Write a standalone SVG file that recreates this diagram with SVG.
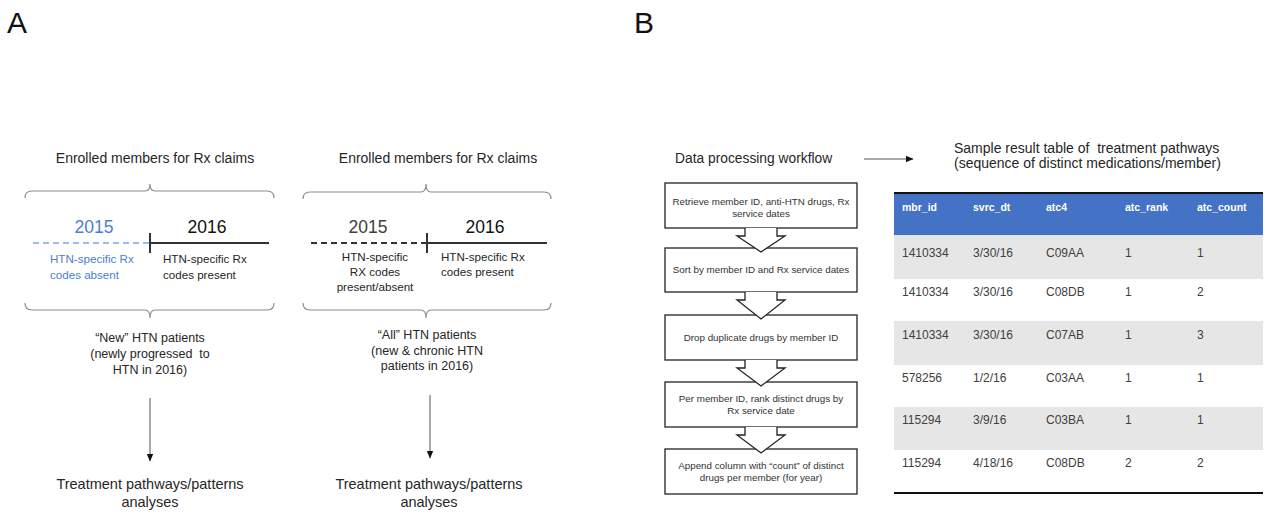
<svg xmlns="http://www.w3.org/2000/svg" width="1270" height="515" viewBox="0 0 1270 515">
<style>
text{font-family:"Liberation Sans",Arial,sans-serif;fill:#262626}
.lbl{font-size:30px;fill:#111}
.ttl{font-size:14px}
.yr{font-size:17.5px}
.sm{font-size:11.6px}
.pt{font-size:12.5px}
.big{font-size:14.5px}
.bx{font-size:9.8px;fill:#333}
.th{font-size:10.5px;font-weight:bold;fill:#fff}
.td{font-size:12px;fill:#404040}
.blue{fill:#4a7fd0}
.brace{fill:none;stroke:#8c8c8c;stroke-width:1.2}
.box{fill:#fff;stroke:#222;stroke-width:1.3}
.conn{fill:none;stroke:#555;stroke-width:1}
.pre{white-space:pre}
</style>
<defs>
<marker id="ah" markerWidth="8" markerHeight="8" refX="7" refY="4" orient="auto" markerUnits="userSpaceOnUse">
<path d="M0,0.8 L7.5,4 L0,7.2 Z" fill="#111"/>
</marker>
</defs>
<rect width="1270" height="515" fill="#fff"/>
<text class="lbl" x="7" y="33">A</text>
<text class="lbl" x="634" y="33">B</text>

<g id="panelA1">
<text class="ttl" x="155" y="163" text-anchor="middle">Enrolled members for Rx claims</text>
<path class="brace" d="M25,198 Q25,191 32,191 L145,191 Q150,191 150,184 Q150,191 155,191 L267,191 Q274,191 274,198"/>
<text class="yr blue" x="94" y="233" text-anchor="middle">2015</text>
<text class="yr" x="207" y="233" text-anchor="middle" style="fill:#111">2016</text>
<line x1="33" y1="243" x2="150" y2="243" stroke="#7aa8ea" stroke-width="1.6" stroke-dasharray="6,4"/>
<line x1="150" y1="243" x2="269" y2="243" stroke="#333" stroke-width="2"/>
<line x1="150" y1="233" x2="150" y2="253" stroke="#333" stroke-width="2"/>
<text class="sm blue" x="50" y="263">HTN-specific Rx</text>
<text class="sm blue" x="50" y="279">codes absent</text>
<text class="sm" x="163" y="263">HTN-specific Rx</text>
<text class="sm" x="163" y="279">codes present</text>
<path class="brace" d="M25,303 Q25,310 32,310 L145,310 Q150,310 150,318 Q150,310 155,310 L267,310 Q274,310 274,303"/>
<text class="pt" x="150" y="342" text-anchor="middle">“New” HTN patients</text>
<text class="pt pre" x="150" y="358" text-anchor="middle">(newly progressed  to</text>
<text class="pt" x="150" y="374" text-anchor="middle">HTN in 2016)</text>
<text class="big" x="150" y="489" text-anchor="middle">Treatment pathways/patterns</text>
<text class="big" x="150" y="507" text-anchor="middle">analyses</text>
</g>

<g id="panelA2">
<text class="ttl" x="438" y="163" text-anchor="middle">Enrolled members for Rx claims</text>
<path class="brace" d="M303,199 Q303,192 310,192 L421,192 Q426,192 426,184 Q426,192 431,192 L544,192 Q551,192 551,199"/>
<text class="yr" x="368" y="233" text-anchor="middle" style="fill:#404040">2015</text>
<text class="yr" x="485" y="233" text-anchor="middle" style="fill:#111">2016</text>
<line x1="311" y1="243" x2="427" y2="243" stroke="#333" stroke-width="2" stroke-dasharray="6,4"/>
<line x1="427" y1="243" x2="547" y2="243" stroke="#333" stroke-width="2"/>
<line x1="427" y1="233" x2="427" y2="253" stroke="#333" stroke-width="2"/>
<text class="sm" x="375" y="261" text-anchor="middle">HTN-specific</text>
<text class="sm" x="375" y="276" text-anchor="middle">RX codes</text>
<text class="sm" x="375" y="291" text-anchor="middle">present/absent</text>
<text class="sm" x="441" y="261">HTN-specific Rx</text>
<text class="sm" x="441" y="276">codes present</text>
<path class="brace" d="M303,303 Q303,310 310,310 L421,310 Q426,310 426,318 Q426,310 431,310 L544,310 Q551,310 551,303"/>
<text class="pt" x="427" y="339" text-anchor="middle">“All” HTN patients</text>
<text class="pt" x="427" y="355" text-anchor="middle">(new &amp; chronic HTN</text>
<text class="pt" x="427" y="370" text-anchor="middle">patients in 2016)</text>
<text class="big" x="429" y="489" text-anchor="middle">Treatment pathways/patterns</text>
<text class="big" x="429" y="507" text-anchor="middle">analyses</text>
</g>

<g id="workflow">
<text class="ttl" x="675" y="163" style="font-size:13.8px">Data processing workflow</text>
<g id="box1"><rect class="box" x="665" y="183" width="192" height="45"/>
<text class="bx" x="761" y="205" text-anchor="middle">Retrieve member ID, anti-HTN drugs, Rx</text>
<text class="bx" x="761" y="217" text-anchor="middle">service dates</text></g>
<g id="box2"><rect class="box" x="665" y="248" width="192" height="44"/>
<text class="bx" x="761" y="273" text-anchor="middle">Sort by member ID and Rx service dates</text></g>
<g id="box3"><rect class="box" x="665" y="315" width="192" height="45"/>
<text class="bx" x="761" y="341" text-anchor="middle">Drop duplicate drugs by member ID</text></g>
<g id="box4"><rect class="box" x="665" y="382" width="192" height="45"/>
<text class="bx" x="761" y="402" text-anchor="middle">Per member ID, rank distinct drugs by</text>
<text class="bx" x="761" y="414" text-anchor="middle">Rx service date</text></g>
<g id="box5"><rect class="box" x="665" y="449" width="192" height="45"/>
<text class="bx" x="761" y="469" text-anchor="middle">Append column with “count” of distinct</text>
<text class="bx" x="761" y="481" text-anchor="middle">drugs per member (for year)</text></g>
</g>

<g id="connectors">
<path class="box" d="M745,228 L745,236 L737,236 L761,252 L785,236 L777,236 L777,228"/>
<path class="box" d="M745,292 L745,300 L737,300 L761,319 L785,300 L777,300 L777,292"/>
<path class="box" d="M745,360 L745,368 L737,368 L761,386 L785,368 L777,368 L777,360"/>
<path class="box" d="M745,427 L745,435 L737,435 L761,453 L785,435 L777,435 L777,427"/>
<line class="conn" x1="150" y1="398" x2="150" y2="461" marker-end="url(#ah)"/>
<line class="conn" x1="430" y1="395" x2="430" y2="458" marker-end="url(#ah)"/>
<line class="conn" x1="864" y1="159" x2="913" y2="159" marker-end="url(#ah)"/>
</g>

<g id="table">
<text class="ttl pre" x="954" y="153">Sample result table of  treatment pathways</text>
<text class="ttl" x="954" y="168">(sequence of distinct medications/member)</text>
<rect x="894" y="193" width="369" height="42" fill="#4472c4"/>
<rect x="894" y="235" width="369" height="44" fill="#e6e6e6"/>
<rect x="894" y="321" width="369" height="44" fill="#e6e6e6"/>
<rect x="894" y="407" width="369" height="43" fill="#e6e6e6"/>
<line x1="894" y1="193" x2="1263" y2="193" stroke="#111" stroke-width="2"/>
<line x1="894" y1="493" x2="1263" y2="493" stroke="#111" stroke-width="2.2"/>
<text class="th" x="902" y="211">mbr_id</text>
<text class="th" x="973" y="211">svrc_dt</text>
<text class="th" x="1046" y="211">atc4</text>
<text class="th" x="1125" y="211">atc_rank</text>
<text class="th" x="1197" y="211">atc_count</text>
<g class="rows">
<text class="td" x="902" y="257">1410334</text><text class="td" x="973" y="257">3/30/16</text><text class="td" x="1046" y="257">C09AA</text><text class="td" x="1125" y="257">1</text><text class="td" x="1197" y="257">1</text>
<text class="td" x="902" y="296">1410334</text><text class="td" x="973" y="296">3/30/16</text><text class="td" x="1046" y="296">C08DB</text><text class="td" x="1125" y="296">1</text><text class="td" x="1197" y="296">2</text>
<text class="td" x="902" y="339">1410334</text><text class="td" x="973" y="339">3/30/16</text><text class="td" x="1046" y="339">C07AB</text><text class="td" x="1125" y="339">1</text><text class="td" x="1197" y="339">3</text>
<text class="td" x="902" y="382">578256</text><text class="td" x="973" y="382">1/2/16</text><text class="td" x="1046" y="382">C03AA</text><text class="td" x="1125" y="382">1</text><text class="td" x="1197" y="382">1</text>
<text class="td" x="902" y="424">115294</text><text class="td" x="973" y="424">3/9/16</text><text class="td" x="1046" y="424">C03BA</text><text class="td" x="1125" y="424">1</text><text class="td" x="1197" y="424">1</text>
<text class="td" x="902" y="467">115294</text><text class="td" x="973" y="467">4/18/16</text><text class="td" x="1046" y="467">C08DB</text><text class="td" x="1125" y="467">2</text><text class="td" x="1197" y="467">2</text>
</g>
</g>
</svg>
